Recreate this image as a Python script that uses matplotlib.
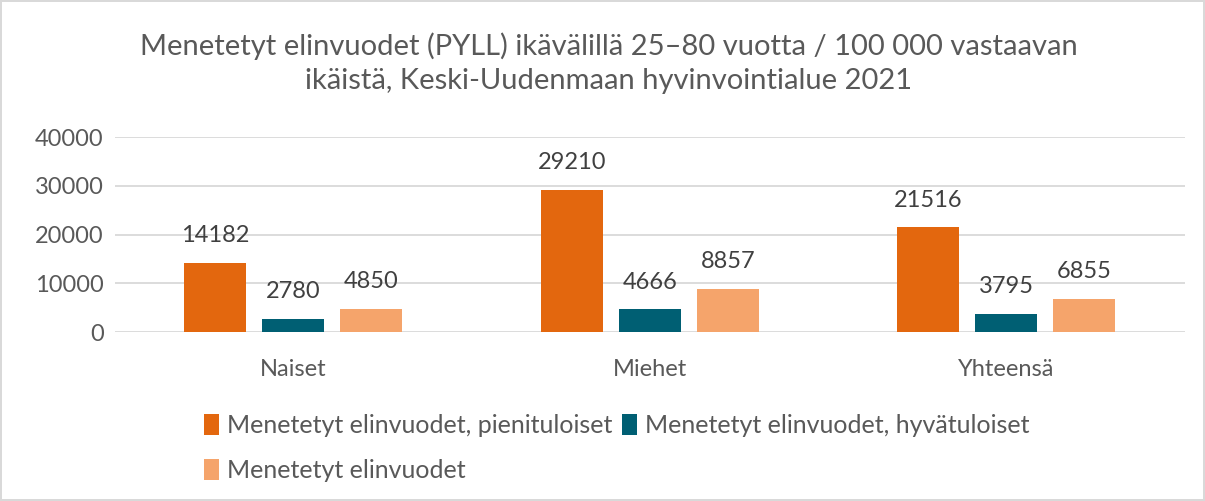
import matplotlib.pyplot as plt
import numpy as np

# Data
categories = ['Naiset', 'Miehet', 'Yhteensä']
series_names = ['Menetetyt elinvuodet, pienituloiset',
                'Menetetyt elinvuodet, hyvätuloiset',
                'Menetetyt elinvuodet']
pienituloiset = [14182, 29210, 21516]
hyvatuloiset = [2780, 4666, 3795]
kaikki = [4850, 8857, 6855]
y_ticks = [0, 10000, 20000, 30000, 40000]

colors = ['#E3670E', '#005F73', '#F5A46B']
text_color = '#595959'

plt.rcParams['font.family'] = ['Lato', 'DejaVu Sans']

fig = plt.figure(figsize=(12.05, 5.01), dpi=100)
fig.patch.set_edgecolor('#D9D9D9')
fig.patch.set_linewidth(1.5)
ax = fig.add_axes([0.0954, 0.337, 0.8876, 0.3895])

x = np.arange(len(categories))
width = 0.174
step = 0.219
handles = []
for i, (vals, name) in enumerate(zip([pienituloiset, hyvatuloiset, kaikki], series_names)):
    bars = ax.bar(x + (i - 1) * step, vals, width, color=colors[i], label=name, zorder=3)
    handles.append(bars)
    for b, v in zip(bars, vals):
        ax.annotate(str(v), (b.get_x() + b.get_width() / 2, v), xytext=(0, 12),
                    textcoords='offset points', ha='center', va='bottom',
                    fontsize=17, color='#404040')

ax.set_xlim(-0.5, 2.5)
ax.set_ylim(0, 40000)
ax.set_yticks(y_ticks)
ax.set_yticklabels([str(t) for t in y_ticks])
ax.set_xticks(x)
ax.set_xticklabels(categories)
ax.tick_params(axis='both', length=0, labelsize=17, labelcolor=text_color)
ax.tick_params(axis='x', pad=19)
ax.tick_params(axis='y', pad=8)
ax.grid(axis='y', color='#D9D9D9', linewidth=1.3, zorder=0)
for s in ax.spines.values():
    s.set_visible(False)

fig.text(0.505, 0.874, 'Menetetyt elinvuodet (PYLL) ikävälillä 25–80 vuotta / 100 000 vastaavan\n'
         'ikäistä, Keski-Uudenmaan hyvinvointialue 2021',
         ha='center', va='center', fontsize=21, color=text_color, linespacing=1.38)

leg = fig.legend([handles[0], handles[2], handles[1]],
                 [series_names[0], series_names[2], series_names[1]],
                 ncol=2, loc='upper left', bbox_to_anchor=(0.151, 0.218),
                 frameon=False, fontsize=18, labelcolor=text_color,
                 handlelength=0.6, handleheight=0.9, handletextpad=0.3,
                 columnspacing=0.4, labelspacing=0.88)

fig.savefig('out.png', dpi=100)
